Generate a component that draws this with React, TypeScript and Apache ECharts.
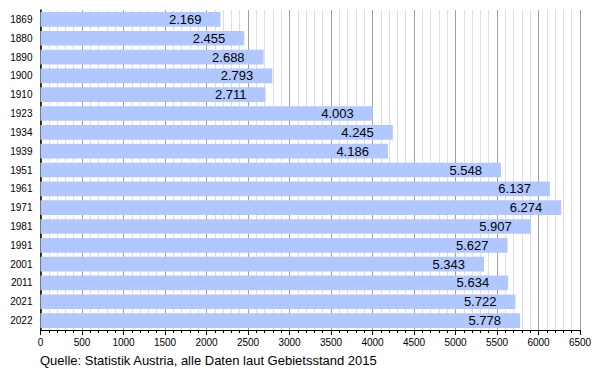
import React, { useEffect, useRef } from "react";
import * as echarts from "echarts";

const years = ["1869", "1880", "1890", "1900", "1910", "1923", "1934", "1939", "1951", "1961", "1971", "1981", "1991", "2001", "2011", "2021", "2022"];
const population = [2169, 2455, 2688, 2793, 2711, 4003, 4245, 4186, 5548, 6137, 6274, 5907, 5627, 5343, 5634, 5722, 5778];
const sourceNote = "Quelle: Statistik Austria, alle Daten laut Gebietsstand 2015";

const FONT = "'Liberation Sans', Arial, sans-serif";

function fmt(v: number): string {
  const s = String(Math.round(v));
  return s.replace(/\B(?=(\d{3})+(?!\d))/g, ".");
}

export default function App() {
  const ref = useRef<HTMLDivElement>(null);
  useEffect(() => {
    if (!ref.current) return;
    const chart = echarts.init(ref.current, undefined, { renderer: "svg" });
    chart.setOption({
      animation: false,
      backgroundColor: "#ffffff",
      textStyle: { fontFamily: FONT },
      grid: { left: 40.5, right: 20, top: 10, bottom: 40, containLabel: false },
      xAxis: {
        type: "value",
        min: 0,
        max: 6500,
        interval: 500,
        axisLine: { show: true, lineStyle: { color: "#000", width: 1 } },
        axisTick: { show: true, length: 5, lineStyle: { color: "#000" } },
        minorTick: { show: true, splitNumber: 5, length: 3, lineStyle: { color: "#000" } },
        splitLine: { show: true, lineStyle: { color: "#a0a0a0", width: 1 } },
        minorSplitLine: { show: true, lineStyle: { color: "#dddddd", width: 1 } },
        axisLabel: {
          color: "#000",
          fontSize: 10,
          fontFamily: FONT,
          margin: 7,
          formatter: (v: number) => String(v),
        },
      },
      yAxis: {
        type: "category",
        data: years,
        inverse: true,
        axisLine: { show: true, lineStyle: { color: "#000", width: 1.5 } },
        axisTick: { show: false },
        splitLine: { show: false },
        axisLabel: { color: "#000", fontSize: 10, fontFamily: FONT, margin: 8 },
      },
      series: [
        {
          type: "bar",
          data: population,
          barCategoryGap: "22%",
          itemStyle: { color: "#b0c8ff" },
          label: {
            show: true,
            position: "insideRight",
            distance: 19,
            color: "#000",
            fontSize: 13,
            fontFamily: FONT,
            formatter: (p: any) => fmt(p.value),
          },
        },
      ],
      graphic: [
        {
          type: "text",
          left: 40,
          top: 354,
          style: { text: sourceNote, fill: "#000", font: `13px ${FONT}` },
        },
      ],
    });
    return () => chart.dispose();
  }, []);
  return <div ref={ref} style={{ width: 600, height: 370, position: "absolute", left: 0, top: 0 }} />;
}
